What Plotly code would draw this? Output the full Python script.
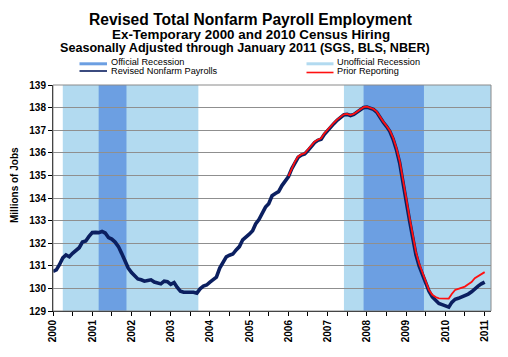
import pandas as pd
import plotly.graph_objects as go

# ---------------- data ----------------
months = pd.date_range("2000-01-01", "2011-01-01", freq="MS")

revised = [
    # 2000
    130.75, 130.82, 131.05, 131.35, 131.48, 131.40, 131.55, 131.70, 131.80, 132.05, 132.10, 132.30,
    # 2001
    132.47, 132.48, 132.47, 132.52, 132.45, 132.25, 132.18, 132.05, 131.85, 131.55, 131.20, 130.90,
    # 2002
    130.70, 130.55, 130.42, 130.38, 130.32, 130.35, 130.38, 130.28, 130.25, 130.20, 130.32, 130.30,
    # 2003
    130.18, 130.26, 130.05, 129.88, 129.83, 129.83, 129.84, 129.83, 129.79, 129.98, 130.10, 130.15,
    # 2004
    130.28, 130.40, 130.50, 130.90, 131.15, 131.40, 131.47, 131.52, 131.70, 131.85, 132.15, 132.25,
    # 2005
    132.40, 132.55, 132.85, 133.05, 133.32, 133.60, 133.75, 134.10, 134.20, 134.28, 134.55, 134.75,
    # 2006
    134.95, 135.30, 135.55, 135.80, 135.90, 135.95, 136.10, 136.30, 136.45, 136.55, 136.60, 136.82,
    # 2007
    137.00, 137.15, 137.30, 137.45, 137.55, 137.68, 137.70, 137.65, 137.70, 137.80, 137.90, 138.00,
    # 2008
    138.02, 137.98, 137.92, 137.80, 137.55, 137.35, 137.17, 136.95, 136.60, 136.15, 135.55, 134.80,
    # 2009
    133.85, 133.00, 132.20, 131.50, 131.00, 130.62, 130.22, 129.88, 129.62, 129.45, 129.33, 129.28,
    # 2010
    129.22, 129.17, 129.38, 129.52, 129.56, 129.62, 129.68, 129.75, 129.85, 130.00, 130.10, 130.20,
    # 2011
    130.28,
]

prior_start = 72  # January 2006
prior = [
    # 2006
    134.97, 135.33, 135.60, 135.84, 135.93, 135.98, 136.14, 136.34, 136.49, 136.58, 136.64, 136.86,
    # 2007
    137.04, 137.19, 137.34, 137.48, 137.58, 137.70, 137.72, 137.67, 137.72, 137.82, 137.92, 138.02,
    # 2008
    138.04, 138.00, 137.94, 137.82, 137.58, 137.38, 137.20, 136.99, 136.66, 136.22, 135.64, 134.90,
    # 2009
    133.98, 133.12, 132.32, 131.62, 131.10, 130.72, 130.30, 129.93, 129.72, 129.62, 129.56, 129.55,
    # 2010
    129.53, 129.55, 129.75, 129.93, 129.98, 130.02, 130.08, 130.18, 130.28, 130.45, 130.55, 130.65,
    # 2011
    130.72,
]

official_recessions = [("2001-03-01", "2001-11-15"), ("2007-12-01", "2009-06-15")]
unofficial_recessions = [("2000-04-01", "2003-09-15"), ("2007-06-01", "2011-03-01")]

y_ticks = list(range(129, 140))

# ---------------- figure ----------------
FONT = "Arial, Liberation Sans, sans-serif"
LIGHT = "#B2DAF0"
DARK = "#6C9FE2"
NAVY = "#0B1F60"
RED = "#FF1010"

OFF = 8  # page body margin
W, H = 508 - OFF, 357 - OFF
# plot area in screen pixels
SL, SR, ST, SB = 53, 491, 85, 311
L, R, T, B = SL - OFF, SR - OFF, ST - OFF, SB - OFF

fig = go.Figure()

fig.add_trace(go.Scatter(x=months, y=revised, mode="lines",
                         line=dict(color=NAVY, width=3.6), name="Revised Nonfarm Payrolls",
                         showlegend=False))
fig.add_trace(go.Scatter(x=months[prior_start:], y=prior, mode="lines",
                         line=dict(color=RED, width=1.8), name="Prior Reporting",
                         showlegend=False))

shapes = []
for x0, x1 in unofficial_recessions:
    shapes.append(dict(type="rect", xref="x", yref="paper", x0=x0, x1=x1, y0=0, y1=1,
                       fillcolor=LIGHT, line=dict(width=0), layer="below"))
for x0, x1 in official_recessions:
    shapes.append(dict(type="rect", xref="x", yref="paper", x0=x0, x1=x1, y0=0, y1=1,
                       fillcolor=DARK, line=dict(width=0), layer="below"))
shapes.append(dict(type="rect", xref="paper", yref="paper", x0=0, x1=1, y0=0, y1=1,
                   line=dict(color="#8a8a8a", width=1), fillcolor="rgba(0,0,0,0)", layer="above"))

# screen pixel -> paper helpers
def px(x):
    return (x - SL) / (SR - SL)
def py(y):
    return (SB - y) / (SB - ST)

# legend swatches
shapes.append(dict(type="rect", xref="paper", yref="paper", x0=px(79.5), x1=px(107), y0=py(65.3), y1=py(62.3),
                   fillcolor=DARK, line=dict(width=0)))
shapes.append(dict(type="rect", xref="paper", yref="paper", x0=px(306.5), x1=px(333.5), y0=py(65.3), y1=py(62.3),
                   fillcolor=LIGHT, line=dict(width=0)))
shapes.append(dict(type="line", xref="paper", yref="paper", x0=px(79.5), x1=px(107), y0=py(71), y1=py(71),
                   line=dict(color=NAVY, width=1.6)))
shapes.append(dict(type="line", xref="paper", yref="paper", x0=px(306.5), x1=px(333.5), y0=py(72.5), y1=py(72.5),
                   line=dict(color=RED, width=1.6)))

annotations = []
def ann(text, x, y, size, bold=False, xanchor="center", angle=0):
    annotations.append(dict(text=text, xref="paper", yref="paper", x=px(x), y=py(y),
                            xanchor=xanchor, yanchor="middle", showarrow=False, textangle=angle,
                            font=dict(family=FONT, size=size, color="black",
                                      weight="bold" if bold else "normal")))

ann("Revised Total Nonfarm Payroll Employment", 250, 19, 15.6, True)
ann("Ex-Temporary 2000 and 2010 Census Hiring", 251, 34.5, 13.4, True)
ann("Seasonally Adjusted through January 2011 (SGS, BLS, NBER)", 245, 48.5, 12.6, True)
ann("Official Recession", 108.5, 61.8, 9.2, xanchor="left")
ann("Unofficial Recession", 334.5, 61.8, 9.2, xanchor="left")
ann("Revised Nonfarm Payrolls", 108.5, 71.2, 9.2, xanchor="left")
ann("Prior Reporting", 334.5, 71.2, 9.2, xanchor="left")
ann("Millions of Jobs", 14, 185, 10, True, angle=-90)

fig.update_layout(
    width=W, height=H,
    margin=dict(l=L, r=W - R, t=T, b=H - B, pad=0),
    paper_bgcolor="white", plot_bgcolor="white",
    font=dict(family=FONT, size=10, color="black"),
    shapes=shapes, annotations=annotations,
    showlegend=False,
)

fig.update_xaxes(
    type="date", range=["2000-01-01", "2011-03-01"],
    tick0="2000-01-01", dtick="M12", tickformat="%Y", tickangle=-90,
    ticks="outside", ticklen=4, tickcolor="black",
    minor=dict(dtick="M6", ticks="outside", ticklen=4, tickcolor="black", showgrid=False),
    showgrid=False, showline=True, linecolor="black", linewidth=1,
    tickfont=dict(family=FONT, size=10, weight="bold"),
    zeroline=False,
)
fig.update_yaxes(
    range=[129, 139], tickvals=y_ticks,
    ticks="outside", ticklen=4, tickcolor="black",
    showgrid=True, gridcolor="#8f8f8f", gridwidth=1,
    showline=True, linecolor="black", linewidth=1,
    tickfont=dict(family=FONT, size=10, weight="bold"),
    zeroline=False,
)

fig.write_html("out.html")
